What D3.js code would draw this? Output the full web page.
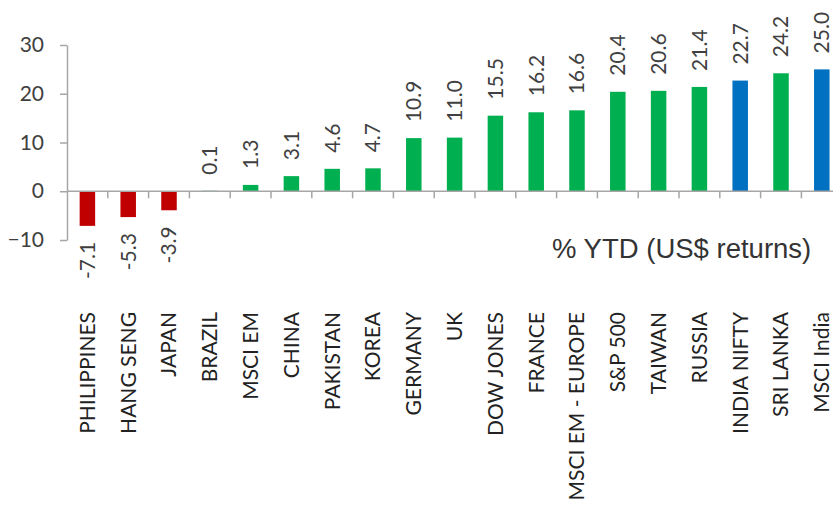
<!DOCTYPE html>
<html>
<head>
<meta charset="utf-8">
<script src="https://cdn.jsdelivr.net/npm/d3@7/dist/d3.min.js"></script>
<style>
  html, body { margin: 0; padding: 0; background: #fff; }
  svg { display: block; }
</style>
</head>
<body>
<svg id="chart" width="833" height="506"></svg>
<script>
const categories = ["PHILIPPINES", "HANG SENG", "JAPAN", "BRAZIL", "MSCI EM", "CHINA", "PAKISTAN", "KOREA", "GERMANY", "UK", "DOW JONES", "FRANCE", "MSCI EM - EUROPE", "S&P 500", "TAIWAN", "RUSSIA", "INDIA NIFTY", "SRI LANKA", "MSCI India"];
const values = [-7.1, -5.3, -3.9, 0.1, 1.3, 3.1, 4.6, 4.7, 10.9, 11.0, 15.5, 16.2, 16.6, 20.4, 20.6, 21.4, 22.7, 24.2, 25.0];
const groups = ["neg", "neg", "neg", "pos", "pos", "pos", "pos", "pos", "pos", "pos", "pos", "pos", "pos", "pos", "pos", "pos", "india", "pos", "india"];
const yTicks = [-10, 0, 10, 20, 30];
const axisTitle = "% YTD (US$ returns)";

const colors = { neg: "#C00000", pos: "#00B050", india: "#0070C0" };
const textColor = "#404040";
const axisColor = "#A6A6A6";
const font = "Lato, 'Open Sans', sans-serif";

const svg = d3.select("#chart");
const data = categories.map((c, i) => ({ cat: c, val: values[i], grp: groups[i] }));

const x = d3.scaleBand().domain(categories).range([67, 842.2]).paddingInner(0.62).paddingOuter(0.31);
const y = d3.scaleLinear().domain([-10, 30]).range([240, 45]);
const y0 = y(0);

// Y axis
const yAxis = svg.append("g")
  .attr("transform", "translate(67,0)")
  .call(d3.axisLeft(y).tickValues(yTicks).tickSize(7).tickPadding(16).tickSizeOuter(0));
yAxis.select(".domain").attr("stroke", axisColor).attr("stroke-width", 1.5);
yAxis.selectAll(".tick line").attr("stroke", axisColor).attr("stroke-width", 1.5);
yAxis.selectAll(".tick text").attr("fill", textColor).style("font-family", font).style("font-size", "21px");

// Bars
svg.append("g").selectAll("rect").data(data).join("rect")
  .attr("x", d => x(d.cat))
  .attr("width", x.bandwidth())
  .attr("y", d => Math.min(y(d.val), y0))
  .attr("height", d => Math.abs(y(d.val) - y0))
  .attr("fill", d => colors[d.grp]);

// Zero line and category ticks
svg.append("line")
  .attr("x1", 67).attr("x2", 842).attr("y1", y0).attr("y2", y0)
  .attr("stroke", axisColor).attr("stroke-width", 1.5);
svg.append("g").selectAll("line").data(categories.slice(0, -1)).join("line")
  .attr("x1", d => x(d) + x.bandwidth() / 2 + x.step() / 2)
  .attr("x2", d => x(d) + x.bandwidth() / 2 + x.step() / 2)
  .attr("y1", y0).attr("y2", y0 + 7)
  .attr("stroke", axisColor).attr("stroke-width", 1.5);

// Value labels
svg.append("g").selectAll("text").data(data).join("text")
  .attr("transform", d => {
    const cx = x(d.cat) + x.bandwidth() / 2;
    const yy = d.val >= 0 ? y(d.val) - 16 : y(d.val) + 16;
    return `translate(${cx},${yy}) rotate(-90)`;
  })
  .attr("dy", "0.35em")
  .attr("text-anchor", d => d.val >= 0 ? "start" : "end")
  .attr("fill", textColor)
  .style("font-family", font).style("font-size", "21px")
  .text(d => d.val.toFixed(1));

// Category labels
svg.append("g").selectAll("text").data(data).join("text")
  .attr("transform", d => `translate(${x(d.cat) + x.bandwidth() / 2},312) rotate(-90)`)
  .attr("dy", "0.35em")
  .attr("text-anchor", "end")
  .attr("fill", "#222")
  .style("font-family", font).style("font-size", "21px")
  .text(d => d.cat);

// Axis title
svg.append("text")
  .attr("x", 552).attr("y", 258)
  .attr("fill", "#333")
  .style("font-family", "'Liberation Sans', Arial, sans-serif").style("font-size", "27.5px")
  .text(axisTitle);
</script>
</body>
</html>
